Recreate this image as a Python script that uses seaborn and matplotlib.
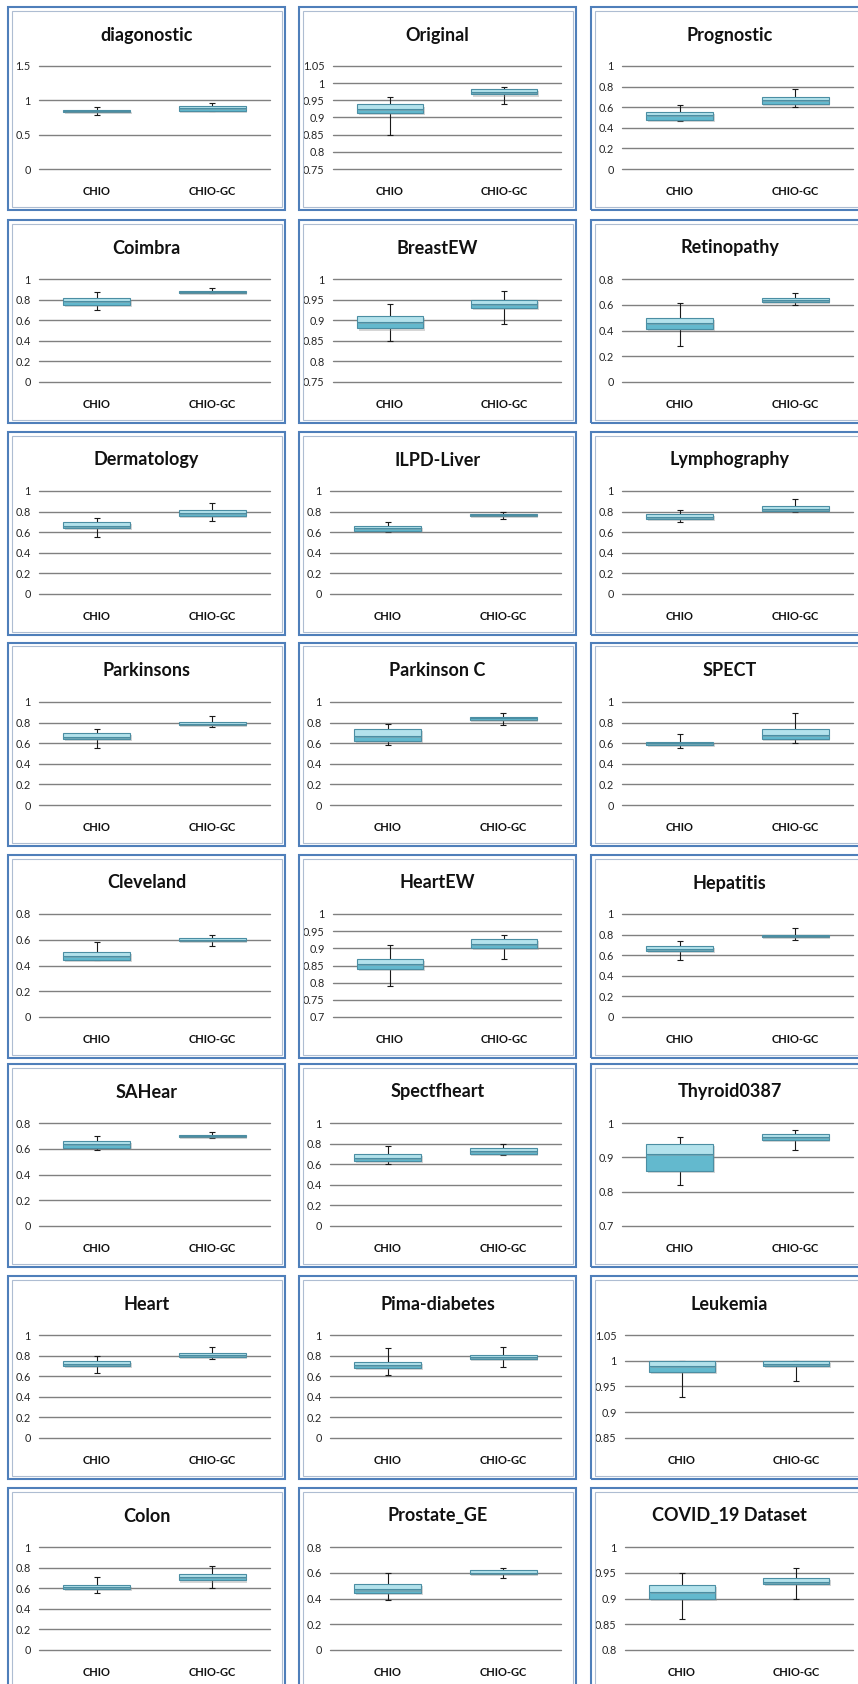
import numpy as np
import pandas as pd
import matplotlib
matplotlib.use("Agg")
import matplotlib.pyplot as plt
import matplotlib.patheffects as pe
from matplotlib.patches import Rectangle
import seaborn as sns

sns.set_theme(style="white")
plt.rcParams["font.family"] = ["Lato", "DejaVu Sans"]

# ---------------------------------------------------------------- data
methods = ["CHIO", "CHIO-GC"]

titles = [
    "diagonostic", "Original", "Prognostic",
    "Coimbra", "BreastEW", "Retinopathy",
    "Dermatology", "ILPD-Liver", "Lymphography",
    "Parkinsons", "Parkinson C", "SPECT",
    "Cleveland", "HeartEW", "Hepatitis",
    "SAHear", "Spectfheart", "Thyroid0387",
    "Heart", "Pima-diabetes", "Leukemia",
    "Colon", "Prostate_GE", "COVID_19 Dataset",
]

# (CHIO, CHIO-GC) pairs for every dataset
whisker_low = [
    (0.79, 0.84), (0.85, 0.94), (0.465, 0.60),
    (0.70, 0.86), (0.85, 0.89), (0.28, 0.60),
    (0.55, 0.71), (0.605, 0.73), (0.70, 0.795),
    (0.555, 0.755), (0.58, 0.78), (0.555, 0.60),
    (0.44, 0.55), (0.79, 0.87), (0.555, 0.75),
    (0.59, 0.685), (0.60, 0.685), (0.82, 0.92),
    (0.635, 0.77), (0.61, 0.685), (0.93, 0.96),
    (0.555, 0.60), (0.39, 0.56), (0.86, 0.90),
]
q1 = [
    (0.83, 0.85), (0.912, 0.967), (0.475, 0.632),
    (0.75, 0.865), (0.88, 0.93), (0.415, 0.62),
    (0.64, 0.755), (0.615, 0.757), (0.725, 0.805),
    (0.64, 0.778), (0.62, 0.825), (0.585, 0.64),
    (0.445, 0.59), (0.84, 0.90), (0.645, 0.778),
    (0.607, 0.695), (0.63, 0.70), (0.86, 0.95),
    (0.70, 0.785), (0.68, 0.765), (0.978, 0.989),
    (0.595, 0.675), (0.44, 0.59), (0.90, 0.928),
]
median = [
    (0.845, 0.89), (0.925, 0.975), (0.525, 0.668),
    (0.785, 0.875), (0.895, 0.94), (0.46, 0.64),
    (0.665, 0.79), (0.64, 0.77), (0.75, 0.83),
    (0.665, 0.79), (0.67, 0.84), (0.60, 0.68),
    (0.475, 0.60), (0.855, 0.912), (0.665, 0.79),
    (0.635, 0.70), (0.665, 0.73), (0.91, 0.96),
    (0.72, 0.81), (0.71, 0.79), (0.99, 0.993),
    (0.615, 0.705), (0.47, 0.60), (0.912, 0.933),
]
q3 = [
    (0.86, 0.92), (0.938, 0.982), (0.555, 0.70),
    (0.82, 0.88), (0.91, 0.95), (0.495, 0.655),
    (0.70, 0.82), (0.66, 0.78), (0.775, 0.85),
    (0.695, 0.805), (0.74, 0.85), (0.615, 0.74),
    (0.505, 0.615), (0.87, 0.928), (0.69, 0.80),
    (0.658, 0.71), (0.70, 0.76), (0.94, 0.967),
    (0.75, 0.83), (0.735, 0.81), (1.0, 1.0),
    (0.635, 0.74), (0.51, 0.62), (0.927, 0.94),
]
whisker_high = [
    (0.91, 0.96), (0.96, 0.99), (0.62, 0.775),
    (0.875, 0.91), (0.94, 0.972), (0.61, 0.69),
    (0.74, 0.88), (0.70, 0.795), (0.82, 0.92),
    (0.735, 0.86), (0.79, 0.89), (0.69, 0.89),
    (0.58, 0.64), (0.91, 0.94), (0.74, 0.86),
    (0.70, 0.73), (0.775, 0.795), (0.96, 0.98),
    (0.795, 0.88), (0.87, 0.88), (1.0, 1.0),
    (0.705, 0.82), (0.60, 0.64), (0.95, 0.96),
]

# y-axis tick labels
ticks_0_15 = ["0", "0.5", "1", "1.5"]
ticks_0_1 = ["0", "0.2", "0.4", "0.6", "0.8", "1"]
ticks_0_08 = ["0", "0.2", "0.4", "0.6", "0.8"]
ticks_075_105 = ["0.75", "0.8", "0.85", "0.9", "0.95", "1", "1.05"]
ticks_075_1 = ["0.75", "0.8", "0.85", "0.9", "0.95", "1"]
ticks_07_1 = ["0.7", "0.75", "0.8", "0.85", "0.9", "0.95", "1"]
ticks_07_1_coarse = ["0.7", "0.8", "0.9", "1"]
ticks_085_105 = ["0.85", "0.9", "0.95", "1", "1.05"]
ticks_08_1 = ["0.8", "0.85", "0.9", "0.95", "1"]

y_tick_labels = [
    ticks_0_15, ticks_075_105, ticks_0_1,
    ticks_0_1, ticks_075_1, ticks_0_08,
    ticks_0_1, ticks_0_1, ticks_0_1,
    ticks_0_1, ticks_0_1, ticks_0_1,
    ticks_0_08, ticks_07_1, ticks_0_1,
    ticks_0_08, ticks_0_1, ticks_07_1_coarse,
    ticks_0_1, ticks_0_1, ticks_085_105,
    ticks_0_1, ticks_0_08, ticks_08_1,
]

# ---------------------------------------------------------------- layout (pixels)
W, H = 858, 1684
panel_left = [8, 299, 591]
panel_top = [7, 220, 432, 643, 855, 1064, 1276, 1488]
panel_w, panel_h = 277, 203

lower_color = "#63b9ce"
upper_color = "#b3e2ec"
edge_color = "#4b8ea3"
grid_color = "#808080"

fig = plt.figure(figsize=(W / 100, H / 100), dpi=100)
fig.patch.set_facecolor("white")


def fig_rect(x, y, w, h, **kw):
    """Rectangle given in pixel units from the top-left corner."""
    return Rectangle((x / W, 1 - (y + h) / H), w / W, h / H,
                     transform=fig.transFigure, fill=False, **kw)


shadow = [pe.SimplePatchShadow(offset=(1.2, -1.5), shadow_rgbFace="#8c8c8c", alpha=0.35),
          pe.Normal()]

for i, title in enumerate(titles):
    r, c = divmod(i, 3)
    px0, py0 = panel_left[c], panel_top[r]

    # chart frame: outer blue line plus thin inner line
    fig.add_artist(fig_rect(px0, py0, panel_w, panel_h, ec="#4f7fba", lw=1.5))
    fig.add_artist(fig_rect(px0 + 3.5, py0 + 3.5, panel_w - 7, panel_h - 7,
                            ec="#aebdd2", lw=0.8))

    fig.text((px0 + panel_w / 2) / W, 1 - (py0 + 28) / H, title,
             ha="center", va="center", fontsize=13, fontweight="bold",
             color="#111111")

    labels = y_tick_labels[i]
    wide = max(len(s) for s in labels) >= 4
    left = px0 + (34 if wide else 31)
    right = px0 + 262
    ax = fig.add_axes([left / W, 1 - (py0 + 162) / H, (right - left) / W, 103 / H])

    lo = np.array(whisker_low[i])
    b1 = np.array(q1[i])
    md = np.array(median[i])
    b3 = np.array(q3[i])
    hi = np.array(whisker_high[i])
    df = pd.DataFrame({"method": methods, "lower": md - b1, "upper": b3 - md})

    sns.barplot(data=df, x="method", y="lower", bottom=b1, ax=ax,
                color=lower_color, saturation=1, width=0.58, errorbar=None,
                edgecolor=edge_color, linewidth=0.8, zorder=3,
                path_effects=shadow)
    sns.barplot(data=df, x="method", y="upper", bottom=md, ax=ax,
                color=upper_color, saturation=1, width=0.58, errorbar=None,
                edgecolor=edge_color, linewidth=0.8, zorder=3,
                path_effects=shadow)

    ax.errorbar(methods, md, yerr=[md - lo, hi - md], fmt="none",
                ecolor="#1a1a1a", elinewidth=0.8, capsize=2.5, capthick=0.8,
                zorder=2)

    vals = [float(s) for s in labels]
    ax.set_ylim(vals[0], vals[-1])
    ax.set_yticks(vals)
    ax.set_yticklabels(labels)
    ax.set_xlim(-0.5, 1.5)
    ax.grid(axis="y", color=grid_color, lw=1.0)
    ax.set_axisbelow(True)
    for gl in ax.get_ygridlines():
        gl.set_clip_on(False)

    ax.set_xlabel("")
    ax.set_ylabel("")
    sns.despine(ax=ax, left=True, bottom=True)
    ax.tick_params(axis="y", length=0, pad=6, labelsize=7.8, labelcolor="#262626")
    ax.tick_params(axis="x", length=0, pad=12, labelsize=8, labelcolor="#111111")
    for t in ax.get_xticklabels():
        t.set_fontweight("bold")
    ax.patch.set_alpha(0)

fig.savefig("out.png", dpi=100)
